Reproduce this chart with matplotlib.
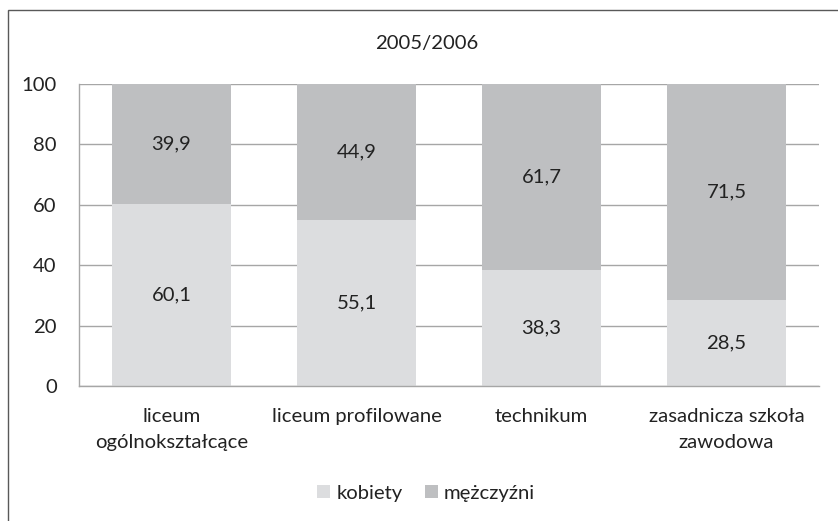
import matplotlib
matplotlib.use("Agg")
import matplotlib.pyplot as plt
from matplotlib.patches import Rectangle, Patch
import numpy as np

plt.rcParams['font.family'] = ['Lato', 'DejaVu Sans']

title = "2005/2006"
categories = ["liceum\nogólnokształcące", "liceum profilowane", "technikum", "zasadnicza szkoła\nzawodowa"]
kobiety = [60.1, 55.1, 38.3, 28.5]
mezczyzni = [39.9, 44.9, 61.7, 71.5]
series_names = ["kobiety", "mężczyźni"]
yticks = [0, 20, 40, 60, 80, 100]

c_light = "#dcdddf"
c_dark = "#bebfc1"
grid_c = "#a6a6a6"
txt_c = "#222222"
fs = 14.6

W, H = 838, 521
fig = plt.figure(figsize=(W / 100, H / 100), dpi=100)

# outer chart border (extends past right/bottom edge)
fig.patches.append(Rectangle((8 / W, -0.1), 1.2, 1 - 10 / H + 0.1, transform=fig.transFigure,
                             fill=False, edgecolor="#595959", linewidth=1.0))

ax = fig.add_axes([79 / W, 1 - 386 / H, (819 - 79) / W, (386 - 84) / H])
x = np.arange(len(categories))
bw = 0.64
ax.bar(x, kobiety, bw, color=c_light, zorder=2, label=series_names[0])
ax.bar(x, mezczyzni, bw, bottom=kobiety, color=c_dark, zorder=2, label=series_names[1])

for i in range(len(categories)):
    ax.text(x[i], kobiety[i] / 2, f"{kobiety[i]:.1f}".replace(".", ","), ha="center", va="center",
            fontsize=fs, color=txt_c, zorder=3)
    ax.text(x[i], kobiety[i] + mezczyzni[i] / 2, f"{mezczyzni[i]:.1f}".replace(".", ","),
            ha="center", va="center", fontsize=fs, color=txt_c, zorder=3)

ax.set_xlim(-0.5, len(categories) - 0.5)
ax.set_ylim(0, 100)
ax.set_yticks(yticks)
ax.set_yticklabels([str(v) for v in yticks], fontsize=fs, color=txt_c)
ax.set_xticks(x)
ax.set_xticklabels(categories, fontsize=fs, color=txt_c, linespacing=1.6)
ax.tick_params(axis="both", length=0)
ax.tick_params(axis="y", pad=16)
ax.tick_params(axis="x", pad=16)
ax.yaxis.grid(True, color=grid_c, linewidth=1.0, zorder=0)
ax.set_axisbelow(True)
for s in ["top", "right"]:
    ax.spines[s].set_visible(False)
for s in ["left", "bottom"]:
    ax.spines[s].set_color(grid_c)
    ax.spines[s].set_linewidth(1.0)

fig.text(427 / W, 1 - 43 / H, title, ha="center", va="center", fontsize=fs, color=txt_c)

handles = [Patch(facecolor=c_light, edgecolor="none"), Patch(facecolor=c_dark, edgecolor="none")]
fig.legend(handles, series_names, loc="center", bbox_to_anchor=(426 / W, 1 - 493 / H), ncol=2,
           frameon=False, fontsize=fs, handlelength=0.65, handleheight=0.65, handletextpad=0.3,
           columnspacing=1.1, labelcolor=txt_c)

fig.savefig("out.png", dpi=100)
